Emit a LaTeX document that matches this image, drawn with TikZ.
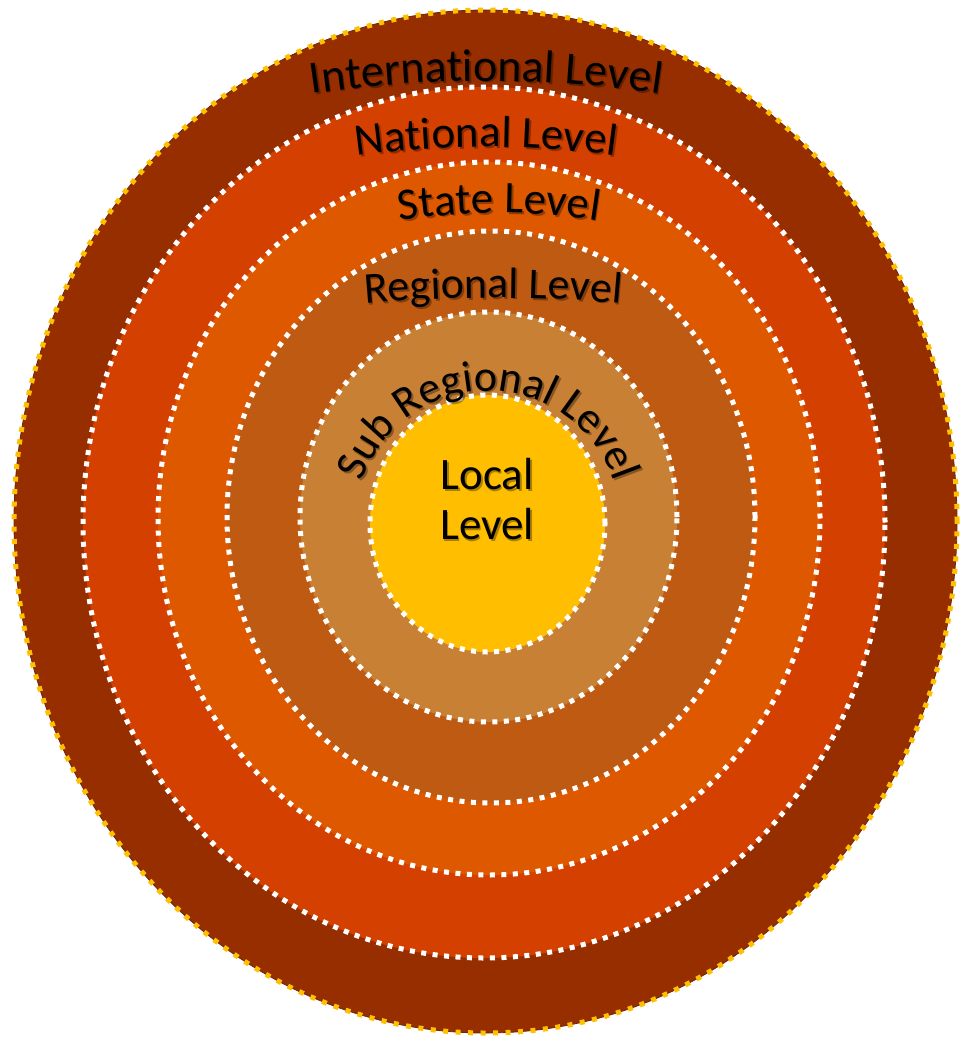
\documentclass[tikz,border=0pt]{standalone}
\usepackage{fontspec}
\setmainfont{Carlito}
\usetikzlibrary{decorations.text}

% band colours, outermost to innermost
\definecolor{intlcol}{RGB}{150,46,0}
\definecolor{natcol}{RGB}{212,64,0}
\definecolor{statecol}{RGB}{222,88,0}
\definecolor{regcol}{RGB}{191,90,18}
\definecolor{subcol}{RGB}{200,128,52}
\definecolor{localcol}{RGB}{255,190,0}
\definecolor{rimcol}{RGB}{255,192,0}
\definecolor{rimline}{RGB}{110,40,10}

\tikzset{
  dotring/.style={draw=white, line width=5pt, dash pattern=on 5pt off 6.5pt},
  rimdots/.style={draw=rimcol, line width=5pt, dash pattern=on 5pt off 7.5pt},
  rimedge/.style={draw=rimline, line width=0.8pt},
  lvltext/.style={font=\fontsize{45}{50}\selectfont, text=black, align=center, inner sep=0pt},
}

% text set along a circular arc over the top of a centre point
% #1 centre x, #2 centre y, #3 radius, #4 half span in degrees, #5 font size, #6 text
\newcommand{\arclabel}[6]{%
  \begin{scope}[opacity=0.33, shift={(1.8,-1.8)}]
    \path[decorate, decoration={text along path, text align=center,
      text={|\fontsize{#5}{#5}\selectfont|#6}}]
      (#1,#2) ++(90+#4:#3) arc[start angle=90+#4, end angle=90-#4, radius=#3];
  \end{scope}
  \path[decorate, decoration={text along path, text align=center,
    text={|\fontsize{#5}{#5}\selectfont|#6}}]
    (#1,#2) ++(90+#4:#3) arc[start angle=90+#4, end angle=90-#4, radius=#3];
}

\begin{document}
\begin{tikzpicture}[x=1pt,y=1pt]
\useasboundingbox (0,0) rectangle (961,-1038);

% filled bands
\fill[intlcol]  (485.5,-521.5) ellipse [x radius=471.5, y radius=511.5];
\fill[natcol]   (484,-522.5)   ellipse [x radius=401,   y radius=435.5];
\fill[statecol] (489,-518.5)   ellipse [x radius=331,   y radius=356.5];
\fill[regcol]   (491,-517)     ellipse [x radius=264,   y radius=286];
\fill[subcol]   (488.5,-517)   ellipse [x radius=188.5, y radius=205];
\fill[localcol] (487.5,-523.5) ellipse [x radius=117.5, y radius=128.5];

% outer rim
\draw[rimedge]  (485.5,-521.5) ellipse [x radius=471.5, y radius=511.5];
\draw[rimdots]  (485.5,-521.5) ellipse [x radius=471.5, y radius=511.5];

% dotted white boundaries
\draw[dotring] (484,-522.5)   ellipse [x radius=401,   y radius=435.5];
\draw[dotring] (489,-518.5)   ellipse [x radius=331,   y radius=356.5];
\draw[dotring] (491,-517)     ellipse [x radius=264,   y radius=286];
\draw[dotring] (488.5,-517)   ellipse [x radius=188.5, y radius=205];
\draw[dotring] (487.5,-523.5) ellipse [x radius=117.5, y radius=128.5];

% curved level names
\arclabel{486}{-1281}{1200}{14}{46}{International Level}
\arclabel{486}{-1097}{950}{14}{45}{National Level}
\arclabel{499}{-863}{650}{16}{45}{State Level}
\arclabel{493}{-1748}{1450}{9}{44}{Regional Level}
\arclabel{488}{-524}{133}{85}{44}{Sub Regional Level}

% centre label
\node[lvltext, text=black, opacity=0.33] (localshadow) at (488.8,-501.3) {Local\\Level};
\node[lvltext] (local) at (487,-499.5) {Local\\Level};
\end{tikzpicture}
\end{document}
